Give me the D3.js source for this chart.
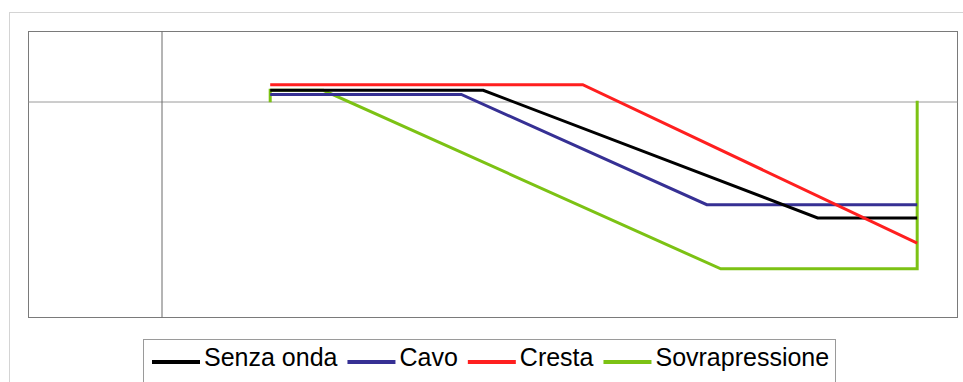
<!DOCTYPE html>
<html>
<head>
<meta charset="utf-8">
<script src="https://cdn.jsdelivr.net/npm/d3@7"></script>
<style>
  body { margin: 0; background: #fff; }
  svg { display: block; }
</style>
</head>
<body>
<div id="chart"></div>
<script>
var width = 963;
var height = 382;

// serie e valori
var serie = ["Senza onda", "Cavo", "Cresta", "Sovrapressione"];
var senzaOndaX = [1.65, 4.86, 9.9, 11.4];
var senzaOndaY = [0.15, 0.15, -1.68, -1.68];
var cavoX = [1.65, 4.53, 8.23, 11.4];
var cavoY = [0.09, 0.09, -1.49, -1.49];
var crestaX = [1.65, 6.36, 11.4];
var crestaY = [0.23, 0.23, -2.04];
var sovraX = [1.65, 1.65, 2.45, 8.44, 11.4, 11.4];
var sovraY = [-0.02, 0.15, 0.15, -2.41, -2.41, 0];

var colori = ["#000000", "#363094", "#ff1f1f", "#7cc214"];

var plot = { left: 28, top: 31, right: 957, bottom: 317 };

var x = d3.scaleLinear().domain([-2, 12]).range([plot.left, plot.right]);
var y = d3.scaleLinear().domain([-3.1, 1]).range([plot.bottom, plot.top]);

var svg = d3.select("#chart")
    .append("svg")
    .attr("width", width)
    .attr("height", height);

// bordo esterno del grafico
svg.append("rect")
    .attr("x", 9.5)
    .attr("y", 12.5)
    .attr("width", 980)
    .attr("height", 400)
    .attr("fill", "#fff")
    .attr("stroke", "#d4d4d4");

// area del tracciato
svg.append("rect")
    .attr("x", plot.left + 0.5)
    .attr("y", plot.top + 0.5)
    .attr("width", plot.right - plot.left)
    .attr("height", plot.bottom - plot.top)
    .attr("fill", "#fff")
    .attr("stroke", "#7a7a7a");

// assi senza etichette
var assex = svg.append("g")
    .attr("transform", "translate(0," + (Math.round(y(0)) + 0.5) + ")")
    .call(d3.axisBottom(x).tickValues([]).tickSizeOuter(0));
assex.select(".domain").attr("stroke", "#9a9a9a");

var assey = svg.append("g")
    .attr("transform", "translate(" + (Math.round(x(0)) + 0.5) + ",0)")
    .call(d3.axisLeft(y).tickValues([]).tickSizeOuter(0));
assey.select(".domain").attr("stroke", "#6a6a6a");

var dati = [
    d3.zip(senzaOndaX, senzaOndaY),
    d3.zip(cavoX, cavoY),
    d3.zip(crestaX, crestaY),
    d3.zip(sovraX, sovraY)
];

var lineGen = d3.line()
    .x(function(d) { return x(d[0]); })
    .y(function(d) { return y(d[1]); });

// ordine di disegno: verde sotto, poi blu, nero, rosso
[3, 1, 0, 2].forEach(function(i) {
    svg.append("path")
        .attr("d", lineGen(dati[i]))
        .attr("fill", "none")
        .attr("stroke", colori[i])
        .attr("stroke-width", 3)
        .attr("stroke-linejoin", "miter");
});

// legenda
var leg = svg.append("g");
leg.append("rect")
    .attr("x", 143.5)
    .attr("y", 339.5)
    .attr("width", 692)
    .attr("height", 60)
    .attr("fill", "#fff")
    .attr("stroke", "#9a9a9a");

var lx = 152;
serie.forEach(function(nome, i) {
    leg.append("line")
        .attr("x1", lx)
        .attr("x2", lx + 48)
        .attr("y1", 362)
        .attr("y2", 362)
        .attr("stroke", colori[i])
        .attr("stroke-width", 4);
    var t = leg.append("text")
        .attr("x", lx + 52)
        .attr("y", 366)
        .attr("font-family", "'Liberation Sans', Arial, sans-serif")
        .attr("font-size", 25)
        .attr("fill", "#000")
        .text(nome);
    lx = lx + 52 + t.node().getComputedTextLength() + 10;
});
</script>
</body>
</html>
